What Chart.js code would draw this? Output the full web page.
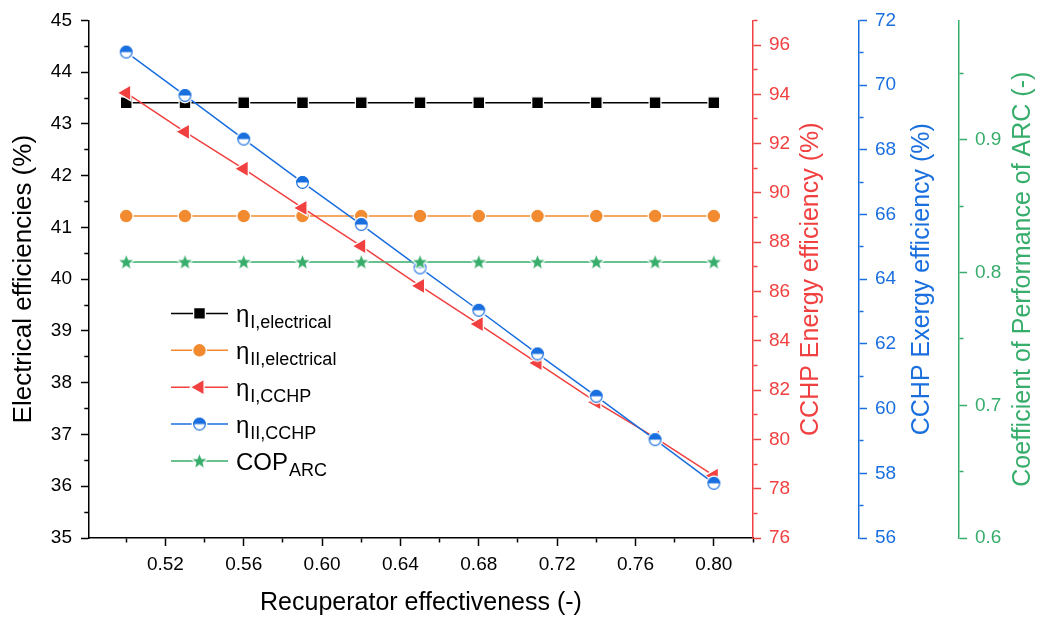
<!DOCTYPE html>
<html>
<head>
<meta charset="utf-8">
<script src="https://cdn.jsdelivr.net/npm/chart.js@4.4.0/dist/chart.umd.min.js"></script>
<style>
  html, body { margin: 0; padding: 0; background: #fff; }
  #wrap { width: 1043px; height: 619px; position: relative; }
</style>
</head>
<body>
<div id="wrap"><canvas id="myChart"></canvas></div>
<script>
// ----- data -----
const effectiveness = [0.50, 0.53, 0.56, 0.59, 0.62, 0.65, 0.68, 0.71, 0.74, 0.77, 0.80];
const etaIElectrical  = [43.41, 43.41, 43.41, 43.41, 43.41, 43.41, 43.41, 43.41, 43.41, 43.41, 43.41];
const etaIIElectrical = [41.22, 41.22, 41.22, 41.22, 41.22, 41.22, 41.22, 41.22, 41.22, 41.22, 41.22];
const etaICchp  = [94.06, 92.48, 90.98, 89.39, 87.84, 86.23, 84.68, 83.10, 81.51, 80.07, 78.53];
const etaIICchp = [71.02, 69.68, 68.33, 66.99, 65.69, 64.35, 63.04, 61.69, 60.38, 59.04, 57.69];
const copArc    = [0.808, 0.808, 0.808, 0.808, 0.808, 0.808, 0.808, 0.808, 0.808, 0.808, 0.808];

// legend text (main part + subscript)
const legendMain = ['η', 'η', 'η', 'η', 'COP'];
const legendSub  = ['I,electrical', 'II,electrical', 'I,CCHP', 'II,CCHP', 'ARC'];

// tick values (all ticks) and the labelled ones
const xTicks      = [0.50, 0.52, 0.54, 0.56, 0.58, 0.60, 0.62, 0.64, 0.66, 0.68, 0.70, 0.72, 0.74, 0.76, 0.78, 0.80, 0.82];
const xTickLabels = [0.52, 0.56, 0.60, 0.64, 0.68, 0.72, 0.76, 0.80];
const leftTicks      = [35, 35.5, 36, 36.5, 37, 37.5, 38, 38.5, 39, 39.5, 40, 40.5, 41, 41.5, 42, 42.5, 43, 43.5, 44, 44.5, 45];
const leftTickLabels = [35, 36, 37, 38, 39, 40, 41, 42, 43, 44, 45];
const redTicks      = [76, 77, 78, 79, 80, 81, 82, 83, 84, 85, 86, 87, 88, 89, 90, 91, 92, 93, 94, 95, 96, 97];
const redTickLabels = [76, 78, 80, 82, 84, 86, 88, 90, 92, 94, 96];
const blueTicks      = [56, 57, 58, 59, 60, 61, 62, 63, 64, 65, 66, 67, 68, 69, 70, 71, 72];
const blueTickLabels = [56, 58, 60, 62, 64, 66, 68, 70, 72];
const greenTicks      = [0.60, 0.65, 0.70, 0.75, 0.80, 0.85, 0.90, 0.95];
const greenTickLabels = [0.6, 0.7, 0.8, 0.9];

// ----- style -----
const FONT = '"Liberation Sans", Arial, sans-serif';
const BLACK = '#000000', ORANGE = '#F28A30', RED = '#F14040', BLUE = '#1A6FDF', GREEN = '#37AD6B';

function has(list, v) { return list.some(m => Math.abs(m - v) < 1e-9); }

// half filled circle marker (top half filled)
function makeHalfCircle(color, r) {
  const c = document.createElement('canvas');
  const s = Math.ceil(2 * r + 6);
  c.width = c.height = s;
  const g = c.getContext('2d');
  const m = s / 2;
  g.beginPath(); g.arc(m, m, r + 1.5, 0, 2 * Math.PI); g.fillStyle = '#fff'; g.fill();
  g.beginPath(); g.arc(m, m, r, Math.PI, 2 * Math.PI); g.closePath(); g.fillStyle = color; g.fill();
  g.beginPath(); g.arc(m, m, r - 0.6, 0, 2 * Math.PI); g.lineWidth = 1.2; g.strokeStyle = color; g.stroke();
  return c;
}

// filled five point star marker
function makeStar(color, R) {
  const c = document.createElement('canvas');
  const s = Math.ceil(2 * R + 6);
  c.width = c.height = s;
  const g = c.getContext('2d');
  const m = s / 2;
  g.beginPath();
  for (let i = 0; i < 10; i++) {
    const rr = i % 2 ? R * 0.42 : R;
    const a = -Math.PI / 2 + i * Math.PI / 5;
    const px = m + rr * Math.cos(a), py = m + 0.5 + rr * Math.sin(a);
    if (i === 0) g.moveTo(px, py); else g.lineTo(px, py);
  }
  g.closePath();
  g.lineWidth = 2.5; g.strokeStyle = '#fff'; g.lineJoin = 'round'; g.stroke();
  g.fillStyle = color; g.fill();
  return c;
}

const halfBlue = makeHalfCircle(BLUE, 6.4);
const starGreen = makeStar(GREEN, 7.3);

function points(ys) { return effectiveness.map((x, i) => ({ x: x, y: ys[i] })); }

// minor ticks are drawn shorter with a dash pattern
function gridFor(color, majors, side) {
  return {
    drawOnChartArea: false,
    drawTicks: true,
    tickLength: 8,
    tickWidth: 1.5,
    tickColor: color,
    tickBorderDash: ctx => {
      if (!ctx.tick || has(majors, ctx.tick.value)) return [];
      return side === 'left' ? [0, 3.3, 4, 100] : [4, 100];
    }
  };
}

function yAxis(color, min, max, ticks, labels, width, digits) {
  return {
    type: 'linear',
    position: 'right',
    min: min,
    max: max,
    afterBuildTicks: s => { s.ticks = ticks.map(v => ({ value: v })); },
    afterFit: s => { s.width = width; },
    ticks: {
      autoSkip: false,
      padding: 8,
      color: color,
      font: { family: FONT, size: 19 },
      callback: v => has(labels, v) ? v.toFixed(digits) : ''
    },
    grid: gridFor(color, labels, 'right'),
    border: { display: true, color: color, width: 1.5 }
  };
}

const rightTitles = [
  { id: 'yRed',   text: 'CCHP Energy efficiency (%)',           color: RED,   dx: 58 },
  { id: 'yBlue',  text: 'CCHP Exergy efficiency (%)',           color: BLUE,  dx: 63 },
  { id: 'yGreen', text: 'Coefficient of Performance of ARC (-)', color: GREEN, dx: 64 }
];

// titles of the right axes read bottom to top
const rightTitlePlugin = {
  id: 'rightTitles',
  afterDraw(chart) {
    const ctx = chart.ctx;
    const area = chart.chartArea;
    const cy = (area.top + area.bottom) / 2;
    rightTitles.forEach(t => {
      const s = chart.scales[t.id];
      ctx.save();
      ctx.translate(s.left + t.dx, cy);
      ctx.rotate(-Math.PI / 2);
      ctx.font = '25px ' + FONT;
      ctx.fillStyle = t.color;
      ctx.textAlign = 'center';
      ctx.textBaseline = 'middle';
      ctx.fillText(t.text, 0, 0);
      ctx.restore();
    });
  }
};

// legend with subscripts
const legendPlugin = {
  id: 'subLegend',
  afterDraw(chart) {
    const ctx = chart.ctx;
    const area = chart.chartArea;
    const x0 = area.left + 82, y0 = area.top + 293, step = 36.9;
    chart.data.datasets.forEach((ds, i) => {
      const y = y0 + i * step;
      ctx.save();
      ctx.strokeStyle = ds.borderColor;
      ctx.lineWidth = ds.borderWidth;
      ctx.beginPath(); ctx.moveTo(x0, y); ctx.lineTo(x0 + 57, y); ctx.stroke();
      ctx.fillStyle = ds.pointBackgroundColor;
      ctx.strokeStyle = ds.pointBorderColor;
      ctx.lineWidth = ds.pointBorderWidth;
      Chart.helpers.drawPoint(ctx, {
        pointStyle: ds.pointStyle,
        rotation: ds.pointRotation || 0,
        radius: ds.pointRadius,
        borderWidth: ds.pointBorderWidth
      }, x0 + 28.5, y);
      ctx.fillStyle = '#000';
      ctx.textAlign = 'left';
      ctx.textBaseline = 'alphabetic';
      ctx.font = '24px ' + FONT;
      ctx.fillText(legendMain[i], x0 + 65, y + 8.6);
      const w = ctx.measureText(legendMain[i]).width;
      ctx.font = '18px ' + FONT;
      ctx.fillText(legendSub[i], x0 + 65 + w + 1, y + 15);
      ctx.restore();
    });
  }
};

const ctx = document.getElementById('myChart').getContext('2d');
const myChart = new Chart(ctx, {
  type: 'line',
  data: {
    datasets: [
      {
        label: 'ηI,electrical', data: points(etaIElectrical), yAxisID: 'y',
        borderColor: BLACK, borderWidth: 1.5,
        pointStyle: 'rect', pointRadius: 8.3, pointBackgroundColor: BLACK,
        pointBorderColor: '#fff', pointBorderWidth: 1.3, order: 5
      },
      {
        label: 'ηII,electrical', data: points(etaIIElectrical), yAxisID: 'y',
        borderColor: ORANGE, borderWidth: 1.5,
        pointStyle: 'circle', pointRadius: 6.9, pointBackgroundColor: ORANGE,
        pointBorderColor: '#fff', pointBorderWidth: 1.3, order: 4
      },
      {
        label: 'ηI,CCHP', data: points(etaICchp), yAxisID: 'yRed',
        borderColor: RED, borderWidth: 1.5,
        pointStyle: 'triangle', pointRotation: -90, pointRadius: 9.2, pointBackgroundColor: RED,
        pointBorderColor: '#fff', pointBorderWidth: 1.3, order: 3
      },
      {
        label: 'ηII,CCHP', data: points(etaIICchp), yAxisID: 'yBlue',
        borderColor: BLUE, borderWidth: 1.5,
        pointStyle: halfBlue, pointRadius: 6.4, pointBackgroundColor: BLUE,
        pointBorderColor: '#fff', pointBorderWidth: 0, order: 2
      },
      {
        label: 'COPARC', data: points(copArc), yAxisID: 'yGreen',
        borderColor: GREEN, borderWidth: 1.5,
        pointStyle: starGreen, pointRadius: 7, pointBackgroundColor: GREEN,
        pointBorderColor: '#fff', pointBorderWidth: 0, order: 1
      }
    ]
  },
  options: {
    responsive: true,
    maintainAspectRatio: false,
    animation: false,
    layout: { padding: { top: 18, left: 0, right: 0, bottom: 0 } },
    plugins: { legend: { display: false }, tooltip: { enabled: false } },
    elements: { line: { tension: 0 } },
    scales: {
      x: {
        type: 'linear',
        min: 0.481,
        max: 0.82,
        afterBuildTicks: s => { s.ticks = xTicks.map(v => ({ value: v })); },
        afterFit: s => { s.height = 81; },
        ticks: {
          autoSkip: false, maxRotation: 0, padding: 7, color: '#000',
          font: { family: FONT, size: 19 },
          callback: v => has(xTickLabels, v) ? v.toFixed(2) : ''
        },
        grid: gridFor('#000', xTickLabels, 'bottom'),
        border: { display: true, color: '#000', width: 1.5 },
        title: {
          display: true, text: 'Recuperator effectiveness (-)', color: '#000',
          font: { family: FONT, size: 25 }, padding: { top: 0, bottom: 1 }
        }
      },
      y: {
        type: 'linear',
        position: 'left',
        min: 35,
        max: 45,
        afterBuildTicks: s => { s.ticks = leftTicks.map(v => ({ value: v })); },
        afterFit: s => { s.width = 89; },
        ticks: {
          autoSkip: false, padding: 9, color: '#000',
          font: { family: FONT, size: 19 },
          callback: v => has(leftTickLabels, v) ? String(v) : ''
        },
        grid: gridFor('#000', leftTickLabels, 'left'),
        border: { display: true, color: '#000', width: 1.5 },
        title: {
          display: true, text: 'Electrical efficiencies (%)', color: '#000',
          font: { family: FONT, size: 26 }, padding: { top: 8.4, bottom: 0 }
        }
      },
      yRed: yAxis(RED, 76, 97, redTicks, redTickLabels, 106, 0),
      yBlue: yAxis(BLUE, 56, 72, blueTicks, blueTickLabels, 100, 0),
      yGreen: yAxis(GREEN, 0.6, 0.99, greenTicks, greenTickLabels, 84, 1)
    }
  },
  plugins: [rightTitlePlugin, legendPlugin]
});
</script>
</body>
</html>
